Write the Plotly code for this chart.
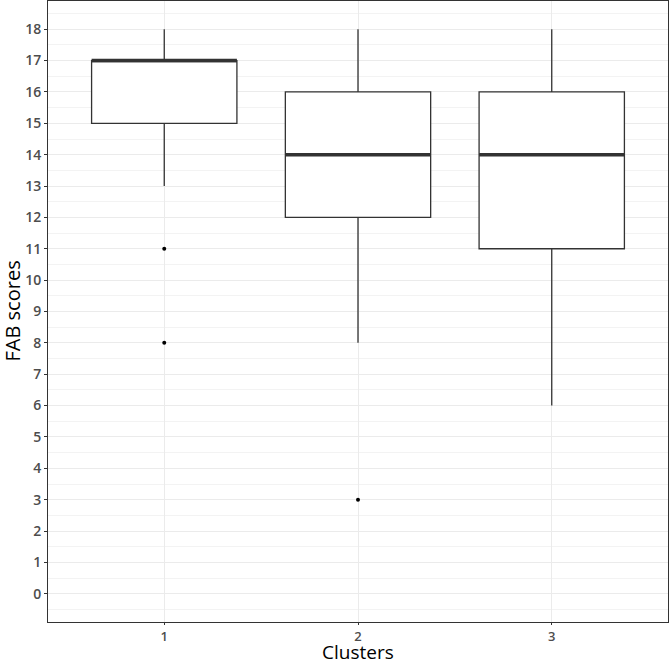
import plotly.graph_objects as go

clusters = [1, 2, 3]
q1 = [15, 12, 11]
median = [17, 14, 14]
q3 = [17, 16, 16]
lower = [13, 8, 6]
upper = [18, 18, 18]
outlier_x = [1, 1, 2]
outlier_y = [11, 8, 3]
y_ticks = list(range(0, 19))

box_w = 0.75
line_col = "#333333"

fig = go.Figure()
fig.add_trace(go.Box(
    x=clusters, q1=q1, median=median, q3=q3,
    lowerfence=lower, upperfence=upper,
    width=box_w, whiskerwidth=0,
    fillcolor="white", line=dict(color=line_col, width=1.3),
    boxpoints=False, showlegend=False, hoverinfo="skip",
))
for c, m in zip(clusters, median):
    fig.add_trace(go.Scatter(
        x=[c - box_w / 2, c + box_w / 2], y=[m, m], mode="lines",
        line=dict(color=line_col, width=3.5), showlegend=False, hoverinfo="skip",
    ))
fig.add_trace(go.Scatter(
    x=outlier_x, y=outlier_y, mode="markers",
    marker=dict(color="black", size=4), showlegend=False, hoverinfo="skip",
))

tick_font = dict(family="Open Sans", size=14, color="#4d4d4d", weight=600)
xtick_font = dict(family="Open Sans", size=13, color="#4d4d4d", weight=600)
title_font = dict(family="Open Sans", size=19, color="black")
fig.update_layout(
    width=669, height=666,
    margin=dict(l=48, r=1, t=1, b=44),
    paper_bgcolor="white", plot_bgcolor="white",
    xaxis=dict(
        range=[0.4, 3.6], tickvals=clusters, ticktext=[str(c) for c in clusters],
        showgrid=True, gridcolor="#ebebeb", gridwidth=1, zeroline=False,
        showline=True, mirror=True, linecolor=line_col, linewidth=1,
        ticks="outside", ticklen=2, tickcolor=line_col, tickfont=xtick_font,
        automargin=False,
    ),
    yaxis=dict(
        range=[-0.9, 18.9], tickvals=y_ticks,
        showgrid=True, gridcolor="#ebebeb", gridwidth=1, zeroline=False,
        minor=dict(dtick=0.5, tick0=0.5, showgrid=True, gridcolor="#f3f3f3", gridwidth=0.8),
        showline=True, mirror=True, linecolor=line_col, linewidth=1,
        ticks="outside", ticklen=3, tickcolor=line_col, tickfont=tick_font,
        automargin=False,
    ),
    annotations=[
        dict(text="Clusters", xref="paper", yref="paper", x=0.5, y=0, yshift=-44,
             xanchor="center", yanchor="bottom", borderpad=0,
             showarrow=False, font=title_font),
        dict(text="FAB scores", xref="paper", yref="paper", x=0, y=0.5, xshift=-36,
             xanchor="center", yanchor="middle", textangle=-90, showarrow=False,
             font=dict(family="Open Sans", size=20, color="black")),
    ],
)
fig.write_html("out.html")
